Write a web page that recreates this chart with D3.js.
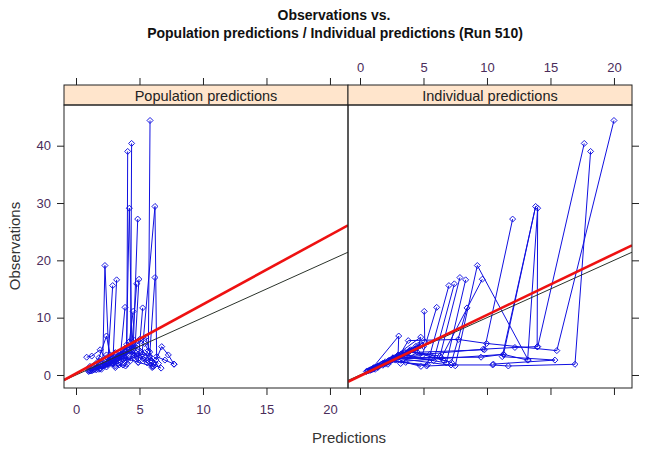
<!DOCTYPE html>
<html><head><meta charset="utf-8">
<script src="https://cdn.jsdelivr.net/npm/d3@7"></script>
<style>body{margin:0;background:#fff}text{font-family:"Liberation Sans",Arial,sans-serif}</style>
</head><body>
<svg id="c" width="668" height="454"></svg>
<script>
const titleLines = ["Observations vs.", "Population predictions / Individual predictions (Run 510)"];
const panelTitles = ["Population predictions", "Individual predictions"];
const xTickValues = [0, 5, 10, 15, 20];
const yTickValues = [0, 10, 20, 30, 40];
// one inner array per subject, in sampling order
const obs = [
 [1.0,2.3,3.4,6.0,6.2,5.5,4.25,44.4],
 [0.8,1.9,3.2,4.5,4.8,4.95,40.4],
 [1.1,2.6,1.57,1.75,1.75,1.57,1.87,39.0],
 [1.4,3.0,3.1,3.6,2.6,29.1,4.9],
 [0.9,2.2,3.6,29.4,3.2,2.6,1.9],
 [1.2,2.5,3.9,4.4,27.2],
 [1.5,3.0,1.6,19.1,2.6],
 [1.0,2.8,3.0,16.7],
 [2.0,4.0,3.3,17.0],
 [1.3,3.5,2.1,16.6],
 [0.7,2.4,1.8,15.6],
 [1.6,3.3,2.5,15.9],
 [1.1,2.7,3.4,11.8],
 [1.9,4.2,2.2,11.7],
 [1.4,3.6,5.8,11.1],
 [1.0,6.8,3.5,1.9],
 [2.4,6.6,4.0,2.0],
 [3.1,3.3,4.4,2.2,1.3],
 [2.6,4.95,3.5,1.87],
 [0.6,1.6,2.9,4.3,3.0,2.1,1.3],
 [1.0,2.0,3.6,5.2,3.9,2.4],
 [0.8,1.7,2.6,3.4,2.6,1.7,1.2],
 [1.5,3.9,5.3,4.5,3.2,2.0],
 [0.7,2.0,3.7,5.0,2.8,1.5],
 [1.3,2.9,4.1,3.6,2.5],
 [0.9,2.1,3.0,2.2,1.5]
];
const pred = [
 [1.2,2.4,3.3,4.6,5.0,5.4,5.7,5.83],
 [1.0,2.0,3.0,3.9,4.1,4.3,4.38],
 [1.5,2.6,3.1,3.4,3.7,3.9,4.0,4.07],
 [1.7,2.9,3.4,3.7,3.95,4.2,4.4],
 [1.6,3.5,5.2,6.22,6.35,7.0,7.72],
 [1.3,2.7,3.9,4.5,4.86],
 [1.1,1.8,2.1,2.28,2.6],
 [2.0,3.6,4.6,4.96],
 [2.5,4.4,5.8,6.22],
 [1.4,2.4,2.9,3.2],
 [1.1,2.0,2.5,2.89],
 [2.2,3.6,4.3,4.78],
 [1.9,3.0,3.5,3.86],
 [2.8,4.3,4.9,5.25],
 [2.4,3.5,4.2,4.5],
 [1.5,2.4,2.7,3.3],
 [3.0,5.5,5.8,6.1],
 [0.84,1.24,1.9,2.5,3.1],
 [6.3,6.75,7.27,7.72],
 [1.0,2.1,3.2,4.3,5.0,5.6,6.0],
 [1.8,2.9,4.0,4.8,5.4,6.0],
 [1.3,2.3,3.4,4.6,5.6,6.2,6.7],
 [2.0,3.1,4.0,4.9,5.8,6.5],
 [1.2,2.5,3.6,4.5,5.3,6.0],
 [1.6,2.8,3.8,4.9,5.9],
 [1.4,2.6,3.8,4.9,6.1]
];
const ipred = [
 [0.9,2.0,3.1,3.8,7.74,9.97,15.5,20.0],
 [0.7,1.7,2.9,9.7,12.2,14.0,17.66],
 [1.0,2.3,5.25,7.17,10.45,11.68,16.93,18.16],
 [1.3,2.7,9.53,11.3,13.2,13.99,13.95],
 [0.8,2.1,11.3,13.83,11.2,15.35,10.5],
 [1.1,2.4,3.7,9.8,12.02],
 [1.4,2.6,7.5,9.24,13.25],
 [1.0,2.5,6.4,9.63],
 [1.8,3.8,6.3,7.87],
 [1.2,3.3,6.8,8.32],
 [0.6,2.2,5.3,7.0],
 [1.5,3.0,5.8,7.43],
 [1.0,2.5,4.9,6.04],
 [1.7,3.9,7.2,8.43],
 [1.3,3.2,5.1,5.06],
 [0.9,3.05,3.0,2.0],
 [2.2,4.78,4.5,3.2],
 [2.9,3.1,4.0,2.3,1.4],
 [2.8,5.0,3.6,2.2],
 [0.5,1.5,2.6,3.9,2.9,2.0,1.2],
 [1.2,1.9,3.4,4.6,3.5,2.3],
 [0.8,1.6,2.4,3.1,2.5,1.8,1.1],
 [1.4,3.6,4.8,4.3,3.1,1.9],
 [0.6,1.8,3.3,4.4,2.6,1.4],
 [1.1,2.6,3.9,5.5,6.6],
 [0.9,2.0,2.8,3.6,4.8]
];
const fitIntercept = [0.26, -0.17];
const fitSlope = [1.207, 1.064];

const svg = d3.select("#c");
svg.append("rect").attr("width", 668).attr("height", 454).attr("fill", "#fff");

const xDomain = [-0.945, 21.42], yDomain = [-2.27, 47.1];
const panelLeft = [64, 348], panelW = 284;
const stripTop = 85, plotTop = 105, plotBot = 388;
const tickCol = "#4a2c5a", frameCol = "#222";

const y = d3.scaleLinear().domain(yDomain).range([plotBot, plotTop]);
const xs = panelLeft.map(l => d3.scaleLinear().domain(xDomain).range([l, l + panelW]));
const xData = [pred, ipred];

svg.append("text").attr("x", 334).attr("y", 20).attr("text-anchor", "middle")
  .attr("font-size", 14).attr("font-weight", "bold").attr("fill", "#111").text(titleLines[0]);
svg.append("text").attr("x", 335).attr("y", 38).attr("text-anchor", "middle")
  .attr("font-size", 14).attr("font-weight", "bold").attr("fill", "#111").text(titleLines[1]);

const defs = svg.append("defs");
panelTitles.forEach((t, i) => {
  const x = xs[i], L = panelLeft[i];
  defs.append("clipPath").attr("id", "clip" + i).append("rect")
    .attr("x", L).attr("y", plotTop).attr("width", panelW).attr("height", plotBot - plotTop);
  svg.append("rect").attr("x", L).attr("y", stripTop).attr("width", panelW).attr("height", plotTop - stripTop)
    .attr("fill", "#ffe5cc").attr("stroke", frameCol).attr("stroke-width", 1);
  svg.append("text").attr("x", L + panelW / 2).attr("y", 100.5).attr("text-anchor", "middle")
    .attr("font-size", 14.5).attr("fill", "#222").text(t);

  const g = svg.append("g").attr("clip-path", `url(#clip${i})`);
  const line = d3.line().x(d => x(d[0])).y(d => y(d[1]));
  obs.forEach((o, s) => {
    const pts = o.map((v, k) => [xData[i][s][k], v]);
    g.append("path").attr("d", line(pts)).attr("fill", "none")
      .attr("stroke", "#1010e0").attr("stroke-width", 1);
    g.selectAll(null).data(pts).enter().append("path")
      .attr("d", d3.symbol(d3.symbolSquare, 18)())
      .attr("transform", d => `translate(${x(d[0])},${y(d[1])}) rotate(45)`)
      .attr("fill", "none").attr("stroke", "#1010e0").attr("stroke-width", 0.9);
  });
  g.append("line").attr("x1", x(xDomain[0])).attr("y1", y(xDomain[0]))
    .attr("x2", x(xDomain[1])).attr("y2", y(xDomain[1]))
    .attr("stroke", "#2b332b").attr("stroke-width", 1);
  g.append("line").attr("x1", x(xDomain[0])).attr("y1", y(fitIntercept[i] + fitSlope[i] * xDomain[0]))
    .attr("x2", x(xDomain[1])).attr("y2", y(fitIntercept[i] + fitSlope[i] * xDomain[1]))
    .attr("stroke", "#ee1111").attr("stroke-width", 2.6);

  svg.append("rect").attr("x", L).attr("y", plotTop).attr("width", panelW).attr("height", plotBot - plotTop)
    .attr("fill", "none").attr("stroke", frameCol).attr("stroke-width", 1);

  const bottom = d3.axisBottom(x).tickValues(xTickValues).tickSize(7).tickSizeOuter(0).tickPadding(10);
  if (i === 1) bottom.tickFormat("");
  const gb = svg.append("g").attr("transform", `translate(0,${plotBot})`).call(bottom);
  const topAx = d3.axisTop(x).tickValues(xTickValues).tickSize(7).tickSizeOuter(0).tickPadding(6);
  if (i === 0) topAx.tickFormat("");
  const gt = svg.append("g").attr("transform", `translate(0,${stripTop})`).call(topAx);
  [gb, gt].forEach(a => {
    a.select(".domain").remove();
    a.selectAll("line").attr("stroke", frameCol);
    a.selectAll("text").attr("font-size", 13).attr("fill", tickCol).attr("font-family", "Liberation Sans, Arial, sans-serif");
  });
});

const yl = svg.append("g").attr("transform", `translate(${panelLeft[0]},0)`)
  .call(d3.axisLeft(y).tickValues(yTickValues).tickSize(7).tickSizeOuter(0).tickPadding(6));
const yr = svg.append("g").attr("transform", `translate(${panelLeft[1] + panelW},0)`)
  .call(d3.axisRight(y).tickValues(yTickValues).tickSize(7).tickSizeOuter(0).tickFormat(""));
[yl, yr].forEach(a => {
  a.select(".domain").remove();
  a.selectAll("line").attr("stroke", frameCol);
  a.selectAll("text").attr("font-size", 13).attr("fill", tickCol).attr("font-family", "Liberation Sans, Arial, sans-serif");
});

svg.append("text").attr("x", 349).attr("y", 443).attr("text-anchor", "middle")
  .attr("font-size", 15).attr("fill", "#333").text("Predictions");
svg.append("text").attr("transform", "translate(20,246) rotate(-90)").attr("text-anchor", "middle")
  .attr("font-size", 15).attr("fill", "#333").text("Observations");
</script>
</body></html>
